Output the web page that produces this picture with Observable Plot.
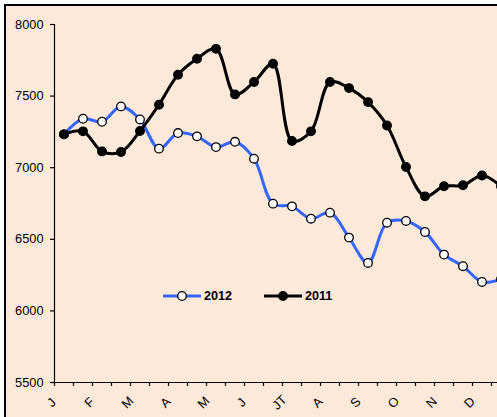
<!DOCTYPE html>
<html>
<head>
<meta charset="utf-8">
<script src="https://cdn.jsdelivr.net/npm/d3@7"></script>
<script src="https://cdn.jsdelivr.net/npm/@observablehq/plot@0.6"></script>
<style>
  html, body { margin: 0; padding: 0; background: #fff; overflow: hidden; width: 497px; height: 417px; }
  #frame { position: absolute; left: 4px; top: 4px; width: 620px; height: 620px; border: 2px solid #000; background: #fde9d9; }
  #chart { position: absolute; left: 0; top: 0; }
  #chart svg { overflow: hidden; }
  #chart svg text { font-size: 12.8px !important; font-family: "Liberation Sans", Arial, sans-serif !important; fill: #000; }
  .legend { position: absolute; top: 288px; height: 16px; display: flex; align-items: center; font: bold 12.6px "Liberation Sans", Arial, sans-serif; color: #000; }
  .legend svg { display: block; }
</style>
</head>
<body>
<div id="frame"></div>
<div id="chart"></div>
<div class="legend" style="left:163px"><svg width="39" height="16"><line x1="0" y1="8" x2="38" y2="8" stroke="#3366ff" stroke-width="3"/><circle cx="19" cy="8" r="4.3" fill="#fff" stroke="#000" stroke-width="1.3"/></svg><span style="margin-left:2px">2012</span></div>
<div class="legend" style="left:264px"><svg width="39" height="16"><line x1="0" y1="8" x2="38" y2="8" stroke="#000" stroke-width="3"/><circle cx="19" cy="8" r="4.3" fill="#000" stroke="#000" stroke-width="1.3"/></svg><span style="margin-left:2px">2011</span></div>
<script>
const months = ["J","F","M","A","M","J","JT","A","S","O","N","D"];
const v2012 = [7233, 7342, 7321, 7428, 7337, 7133, 7242, 7219, 7144, 7181, 7063, 6749,
               6730, 6644, 6686, 6512, 6335, 6616, 6628, 6551, 6393, 6312, 6202, 6221];
const v2011 = [7233, 7254, 7114, 7110, 7256, 7440, 7649, 7761, 7830, 7512, 7598, 7726,
               7186, 7254, 7598, 7556, 7458, 7295, 7005, 6800, 6870, 6877, 6946, 6870];
const yTicks = [5500, 6000, 6500, 7000, 7500, 8000];

const pts2012 = v2012.map((v, i) => ({i: i + 0.5, v}));
const pts2011 = v2011.map((v, i) => ({i: i + 0.5, v}));
const monthLabels = months.map((m, k) => ({x: 2 * k, m}));
const font = "'Liberation Sans', Arial, sans-serif";

const chart = Plot.plot({
  width: 497,
  height: 417,
  marginLeft: 54,
  marginTop: 24,
  marginBottom: 35,
  marginRight: 0,
  style: {background: "transparent", fontFamily: font, fontSize: "12.8px", color: "#000"},
  x: {domain: [0, v2012.length], range: [54, 54 + 19 * v2012.length]},
  y: {domain: [5500, 8000]},
  marks: [
    Plot.axisY({ticks: yTicks, tickSize: 4, tickPadding: 7, tickFormat: d => String(d), label: null, stroke: "#000", strokeWidth: 1.2}),
    Plot.axisX({ticks: d3.range(0, v2012.length + 1), tickSize: 4, tickFormat: () => "", label: null, stroke: "#000", strokeWidth: 1.2}),
    Plot.ruleX([0], {stroke: "#000", strokeWidth: 1.2}),
    Plot.ruleY([5500], {stroke: "#000", strokeWidth: 1.2}),
    Plot.text(monthLabels, {x: "x", text: "m", frameAnchor: "bottom", dy: 23, rotate: -45, textAnchor: "middle", fill: "#000"}),
    Plot.line(pts2012, {x: "i", y: "v", stroke: "#3366ff", strokeWidth: 3, curve: "catmull-rom"}),
    Plot.line(pts2011, {x: "i", y: "v", stroke: "#000", strokeWidth: 3, curve: "catmull-rom"}),
    Plot.dot(pts2012, {x: "i", y: "v", r: 4.3, fill: "#fff", stroke: "#000", strokeWidth: 1.3}),
    Plot.dot(pts2011, {x: "i", y: "v", r: 4.3, fill: "#000", stroke: "#000", strokeWidth: 1.3})
  ]
});
document.getElementById("chart").appendChild(chart);
</script>
</body>
</html>
